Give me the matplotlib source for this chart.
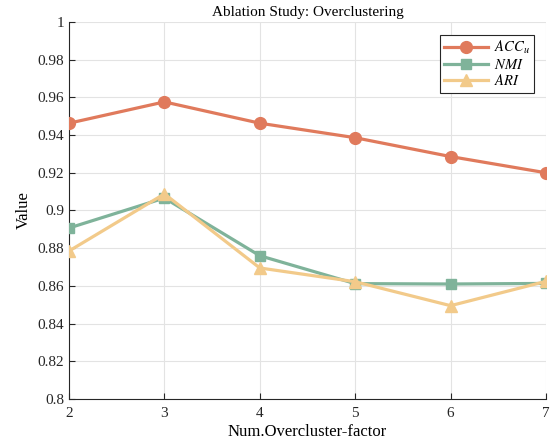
import numpy as np
import matplotlib.pyplot as plt

factor = [2, 3, 4, 5, 6, 7]
acc_u = [0.9463, 0.9576, 0.9463, 0.9386, 0.9286, 0.9200]
nmi = [0.8907, 0.9066, 0.8760, 0.8612, 0.8610, 0.8613]
ari = [0.8785, 0.9088, 0.8695, 0.8622, 0.8495, 0.8624]

plt.rcParams['font.family'] = 'Liberation Serif'
plt.rcParams['mathtext.fontset'] = 'stix'
plt.rcParams['font.size'] = 11

fig = plt.figure(figsize=(5.53, 4.42), dpi=100)
ax = fig.add_axes([0.1248, 0.0973, 0.8625, 0.853])

ax.plot(factor, acc_u, '-o', color='#E07A5C', lw=2.3, ms=8.5, label='$ACC_u$', zorder=3)
ax.plot(factor, nmi, '-s', color='#7FB39A', lw=2.3, ms=6.5, label='$NMI$', zorder=3)
ax.plot(factor, ari, '-^', color='#F2CA8A', lw=2.3, ms=9, label='$ARI$', zorder=4)

ax.set_xlim(2, 7)
ax.set_ylim(0.8, 1.0)
ax.set_xticks(factor)
ax.set_yticks(np.arange(0.8, 1.001, 0.02))
ax.set_yticklabels(['0.8', '0.82', '0.84', '0.86', '0.88', '0.9',
                    '0.92', '0.94', '0.96', '0.98', '1'])
ax.grid(True, color='#e3e3e3', lw=0.8)
ax.set_axisbelow(True)
ax.tick_params(direction='in', length=4, colors='#262626', labelsize=11)
ax.tick_params(axis='x', pad=6)
ax.spines['top'].set_visible(False)
ax.spines['right'].set_visible(False)
ax.spines['left'].set_color('#262626')
ax.spines['bottom'].set_color('#262626')

ax.set_xlabel('Num.Overcluster-factor', fontsize=12, labelpad=3)
ax.set_ylabel('Value', fontsize=12)
ax.set_title('Ablation Study: Overclustering', fontsize=11, pad=4)

leg = ax.legend(loc='upper right', bbox_to_anchor=(0.975, 0.966), fancybox=False,
                edgecolor='#262626', framealpha=1, fontsize=10.5,
                handlelength=3.0, borderpad=0.3, labelspacing=0.1,
                handletextpad=0.4, borderaxespad=0)
leg.get_frame().set_linewidth(0.8)

fig.savefig('out.png', dpi=100)
